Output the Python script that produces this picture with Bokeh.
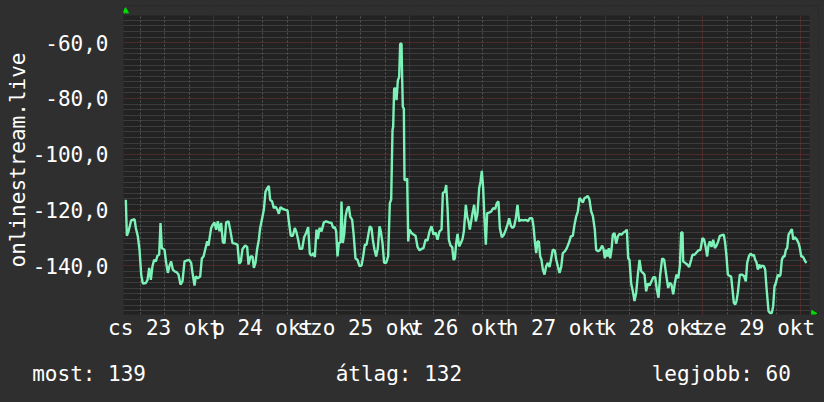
import math
from bokeh.plotting import figure
from bokeh.models import Range1d, FixedTicker, CustomJSTickFormatter, Grid, Title
from bokeh.embed import file_html
from bokeh.resources import INLINE

# hours since 2025-10-23 00:00
hours = [2.41, 2.66, 3.07, 3.72, 4.54, 4.87, 5.36, 5.77, 6.18, 6.58, 7.32, 7.73, 8.14, 8.55, 8.95, 9.36, 9.77,
         10.18, 10.59, 10.92, 11.24, 11.90, 12.31, 12.72, 13.13, 13.53, 13.94, 14.35, 14.92, 15.33, 15.82, 16.31,
         16.81, 17.46, 17.95, 18.44, 18.77, 19.26, 19.58, 20.08, 20.65, 21.06, 21.47, 22.04, 22.37, 22.69, 23.02,
         23.35, 23.76, 24.16, 24.57, 24.98, 25.39, 25.80, 26.21, 26.62, 27.03, 27.60, 28.09, 28.58, 29.24, 29.81,
         30.22, 30.63, 31.04, 31.69, 32.18, 32.51, 33.00, 33.49, 33.82,
         34.22, 34.63, 35.04, 35.37, 35.86, 36.27, 36.68, 37.09, 37.49, 37.82, 38.31, 38.72, 39.13, 39.62, 39.95,
         40.36, 40.93, 41.59, 42.08, 42.40, 42.89, 43.38, 43.87, 44.28, 44.69, 45.10, 45.67, 46.16, 46.65, 47.15,
         47.55, 47.96, 48.45, 48.78, 49.19, 49.52, 49.93, 50.42, 50.99, 51.56, 52.22, 52.87, 53.28, 53.69, 54.02,
         54.34, 54.67, 55.08, 55.32, 55.65, 55.98, 56.31, 56.71, 57.12, 57.45, 57.94, 58.27, 58.76, 59.25, 59.74,
         60.23, 60.64, 61.05, 61.46, 61.87, 62.27, 62.68, 63.01, 63.42, 63.83, 64.24, 64.65, 64.97, 65.38, 65.79,
         66.28, 66.77, 67.18, 67.51,
         67.84, 68.00, 68.24, 68.57, 68.82, 69.15, 69.47, 69.72, 70.05, 70.21, 70.37, 70.62, 70.78, 71.27,
         71.44, 71.69, 72.02, 72.51, 73.08, 73.49, 73.98, 74.47, 74.96, 75.45, 75.94, 76.43, 76.92, 77.41, 77.90,
         78.39, 78.88, 79.37, 79.87, 80.19, 80.68, 81.01, 81.34, 81.66, 82.07, 82.48, 82.81, 83.14, 83.46, 83.79,
         84.19, 84.60, 85.01, 85.34, 85.83, 86.15, 86.48, 86.81, 87.14, 87.46, 87.87, 88.28, 88.69, 89.10, 89.43,
         89.75, 90.08, 90.41, 90.74, 91.06, 91.55, 92.04, 92.53, 93.03, 93.43, 93.84, 94.17, 94.66, 95.15, 95.64,
         96.05, 96.46, 96.87, 97.28, 97.68, 98.09, 98.50, 98.91, 99.40, 99.89, 100.55, 101.04, 101.53,
         102.10, 102.43, 102.76, 103.09, 103.41, 103.74, 104.07, 104.39, 104.72, 105.13, 105.54, 105.95, 106.36,
         106.77, 107.17, 107.66, 107.99, 108.40, 108.81, 109.22, 109.62, 110.11, 110.60, 111.10, 111.59, 112.08,
         112.49, 112.90, 113.30, 113.71, 114.12, 114.53, 114.94, 115.35, 115.76, 116.17, 116.58, 116.98, 117.47,
         117.80, 118.29, 118.78, 119.28, 119.60, 119.93, 120.26, 120.59, 120.91, 121.24, 121.57, 121.89, 122.30,
         122.71, 123.12, 123.53, 124.02, 124.51, 125.00, 125.33, 125.66, 125.98, 126.39, 126.80, 127.21, 127.62,
         128.03, 128.44, 128.85, 129.26, 129.66, 130.07, 130.48, 130.89, 131.38, 131.87, 132.28, 132.69, 133.10,
         133.51, 134.00, 134.49, 134.98,
         135.47, 135.88, 136.29, 136.70, 137.11, 137.52, 137.93, 138.34, 138.66, 138.99, 139.15, 139.64, 140.13,
         140.62, 141.11, 141.44, 141.93, 142.42, 142.91, 143.40, 143.89, 144.30, 144.71, 145.03, 145.36, 145.69,
         146.10, 146.51, 146.92, 147.33, 147.74, 148.14, 148.63, 149.12, 149.45, 149.78, 150.11, 150.43, 150.92,
         151.25, 151.58, 151.91, 152.23, 152.56, 153.05, 153.54, 154.03, 154.52, 154.85, 155.26, 155.67, 156.16,
         156.49, 156.81, 157.14, 157.47, 157.80, 158.12, 158.45, 158.94, 159.27, 159.60, 160.09, 160.58, 160.90,
         161.23, 161.56, 161.89, 162.38, 162.71, 163.03, 163.36, 163.69, 164.02, 164.35, 164.67, 165.00, 165.49,
         165.82, 166.15, 166.48, 166.97, 167.46, 167.78, 168.11, 168.44, 168.77, 169.10, 169.43]

signal = [-116.3, -129.2, -127.6, -123.7, -123.2, -126.4, -129.4, -134.2, -143.1, -146.3, -146.1, -145.0, -140.7,
          -145.0, -140.1, -137.8, -138.4, -136.3, -136.0, -124.6, -133.6, -134.2, -138.9, -142.5, -139.9, -138.4,
          -141.3, -141.9, -142.3, -143.1, -146.7, -145.5, -138.4, -138.0, -137.8, -138.9, -142.5, -147.0, -143.8,
          -144.4, -143.8, -137.3, -136.6, -133.2, -131.2, -132.7, -129.4, -126.4, -125.2, -124.4, -127.0, -124.0,
          -127.6, -124.6, -131.5, -131.8, -124.4, -124.0, -127.6, -131.8, -132.0, -132.4, -139.2, -138.4, -133.9,
          -132.7, -133.2, -139.5, -136.6, -136.6, -140.7,
          -138.9, -133.9, -130.6, -126.4, -122.9, -119.9, -113.4, -112.2, -111.3, -116.3, -116.9, -119.3, -118.7,
          -119.9, -121.3, -118.9, -119.6, -119.9, -120.1, -124.0, -129.2, -129.2, -126.4, -128.0, -130.6, -133.9,
          -133.9, -129.7, -128.2, -126.1, -135.6, -136.3, -135.4, -136.8, -127.0, -130.4, -126.4, -127.6, -124.4,
          -124.0, -124.4, -124.6, -126.4, -126.1, -127.6, -136.6, -131.8, -131.5, -116.9, -131.8, -128.8, -122.3,
          -119.6, -118.7, -122.3, -123.5, -128.2, -137.3, -137.8, -140.1, -139.9, -136.6, -132.4, -132.4, -129.2,
          -125.8, -126.4, -130.6, -134.2, -136.6, -133.6, -125.8, -127.6, -131.8, -138.9, -138.9, -136.6, -117.5,
          -116.3,
          -91.3, -90.1, -76.4, -76.4, -80.6, -73.5, -72.3, -60.4, -60.4, -72.9, -83.0, -83.6, -109.2, -109.2,
          -108.6, -131.2, -127.0, -128.2, -128.8, -129.2, -133.2, -134.4, -133.9, -133.6, -130.6, -130.9, -127.6,
          -125.8, -128.8, -128.0, -130.6, -127.6, -127.0, -113.9, -113.4, -111.0, -119.3, -130.6, -132.7, -133.2,
          -137.8, -137.3, -131.8, -128.5, -133.0, -131.8, -130.4, -127.6, -118.1, -122.3, -124.0, -127.0, -124.0,
          -121.1, -118.1, -124.0, -121.1, -112.2, -109.8, -105.9, -112.2, -123.5, -132.4, -121.1, -120.9, -120.5,
          -119.3, -119.6, -117.5, -116.9, -126.4, -129.7, -128.8, -127.0, -125.2, -122.9, -125.6, -126.4, -125.8,
          -122.9, -118.1, -124.0, -123.5, -123.7, -123.5, -124.0, -122.9,
          -122.9, -125.8, -131.2, -135.4, -131.2, -131.2, -136.6, -137.8, -141.3, -143.1, -140.1, -138.9, -140.4,
          -137.3, -134.2, -134.4, -137.6, -140.1, -142.5, -140.4, -135.4, -134.8, -133.6, -131.8, -129.4, -129.2,
          -125.2, -122.3, -120.5, -115.7, -116.3, -117.3, -115.7, -115.4, -114.9, -116.3, -120.5, -122.0, -127.0,
          -134.2, -134.8, -134.2, -132.7, -133.9, -137.3, -134.2, -136.6, -133.6, -137.3, -134.2, -128.8, -128.2,
          -132.0, -129.4, -128.5, -128.8, -128.0, -127.6, -127.0, -137.3, -137.8, -146.3, -149.1, -152.6, -149.6,
          -143.1, -137.8, -141.9, -142.5, -143.1, -149.1, -146.3, -147.0, -145.5, -144.0, -144.0, -148.5, -151.4,
          -143.1, -137.3, -137.8, -143.1,
          -147.9, -146.1, -146.7, -150.2, -146.1, -143.1, -144.4, -140.1, -128.0, -128.0, -138.4, -138.9, -139.5,
          -140.4, -137.8, -136.0, -136.0, -135.2, -134.4, -134.2, -130.0, -130.6, -133.6, -136.6, -132.7, -131.2,
          -133.2, -130.6, -133.6, -132.7, -131.2, -129.2, -129.0, -128.8, -131.8, -136.6, -143.1, -143.5, -143.8,
          -148.5, -153.2, -153.8, -152.6, -149.6, -143.1, -143.1, -143.5, -145.5, -138.9, -136.6, -135.6, -136.3,
          -136.0, -137.8, -138.7, -141.3, -139.5, -140.7, -139.9, -140.1, -141.3, -147.9, -156.2, -157.0, -156.8,
          -154.4, -147.3, -146.1, -143.1, -143.8, -143.1, -137.8, -136.6, -136.6, -134.2, -133.6, -128.8, -127.6,
          -126.8, -130.6, -129.7, -130.4, -131.8, -133.6, -136.6, -136.6, -137.3, -138.4, -138.9]

day_ticks = [12, 36, 60, 84, 108, 132, 156]
day_labels = ["cs 23 okt", "p 24 okt", "szo 25 okt", "v 26 okt", "h 27 okt", "k 28 okt", "sze 29 okt"]
midnights = [24, 48, 72, 96, 120, 144, 168]
six_hours = [h for h in range(6, 170, 6) if h % 24 != 0]
y_major = [-140, -120, -100, -80, -60]
y_minor = [v for v in range(-156, -50, 2) if v % 20 != 0]
legend_texts = ["most: 139", "átlag: 132", "legjobb: 60"]
y_title = "onlinestream.live"

assert len(hours) == len(signal)

FONT = "DejaVu Sans Mono"
OUTER = "#2f2f2f"
# graph (dark) area in data units, and the slightly larger frame that also holds the axis arrows
X0, X1 = 1.84, 170.14
Y0, Y1 = -157.4, -50.25
XF, YF = 172.35, -46.68

p = figure(width=824, height=402, x_range=Range1d(X0, XF), y_range=Range1d(Y0, YF),
           output_backend="svg", toolbar_location=None,
           min_border_left=123, min_border_right=6, min_border_top=5, min_border_bottom=87,
           background_fill_color="#222222", border_fill_color=OUTER, outline_line_color=None)

# minor grids
p.xgrid.ticker = FixedTicker(ticks=six_hours)
p.xgrid.grid_line_color = "#575757"
p.xgrid.grid_line_dash = "2 2"
p.ygrid.ticker = FixedTicker(ticks=y_minor)
p.ygrid.grid_line_color = "#575757"
p.ygrid.grid_line_dash = "1 1"
# major grids
p.add_layout(Grid(dimension=0, ticker=FixedTicker(ticks=midnights),
                  grid_line_color="#783232", grid_line_dash="1 1"))
p.add_layout(Grid(dimension=1, ticker=FixedTicker(ticks=y_major),
                  grid_line_color="#783232", grid_line_dash="1 1"))

# outer strips above and right of the graph area
p.quad(left=[X0, X1], right=[XF, XF], bottom=[Y1, Y0], top=[YF, YF],
       fill_color=OUTER, line_color=None)

p.line(hours, signal, line_color="#7cf2b8", line_width=2.4)

# axis arrows
p.scatter(x=[2.33], y=[-48.7], marker="triangle", size=6, fill_color="#00dd00", line_color="#00dd00")
p.scatter(x=[171.1], y=[-157.0], marker="triangle", size=6, angle=-math.pi / 2,
          fill_color="#00dd00", line_color="#00dd00")

# axes
xa = p.xaxis[0]
xa.ticker = FixedTicker(ticks=day_ticks)
xa.major_label_overrides = {t: s for t, s in zip(day_ticks, day_labels)}
ya = p.yaxis[0]
ya.ticker = FixedTicker(ticks=y_major)
ya.formatter = CustomJSTickFormatter(code="return tick.toFixed(1).replace('.', ',');")
for ax in (xa, ya):
    ax.axis_line_color = None
    ax.major_tick_line_color = None
    ax.minor_tick_line_color = None
    ax.major_tick_out = 0
    ax.major_tick_in = 0
    ax.major_label_text_font = FONT
    ax.major_label_text_font_size = "21px"
    ax.major_label_text_color = "#ffffff"
xa.major_label_standoff = 1
ya.major_label_standoff = 15
ya.axis_label = y_title
ya.axis_label_text_font = FONT
ya.axis_label_text_font_size = "21px"
ya.axis_label_text_font_style = "normal"
ya.axis_label_text_color = "#ffffff"
ya.axis_label_standoff = 0

# legend line under the graph (monospace, columns padded with no-break spaces)
NB = "\u00a0"
legend_line = legend_texts[0] + NB * 15 + legend_texts[1] + NB * 15 + legend_texts[2]
p.add_layout(Title(text=legend_line, align="left", offset=-91.3, standoff=34,
                   vertical_align="bottom", text_font=FONT, text_font_size="21px",
                   text_font_style="normal", text_color="#ffffff"), "below")

html = file_html(p, INLINE)
html = html.replace("</head>", "<style>html,body{background:#2f2f2f;}</style></head>", 1)
open("out.html", "w").write(html)
